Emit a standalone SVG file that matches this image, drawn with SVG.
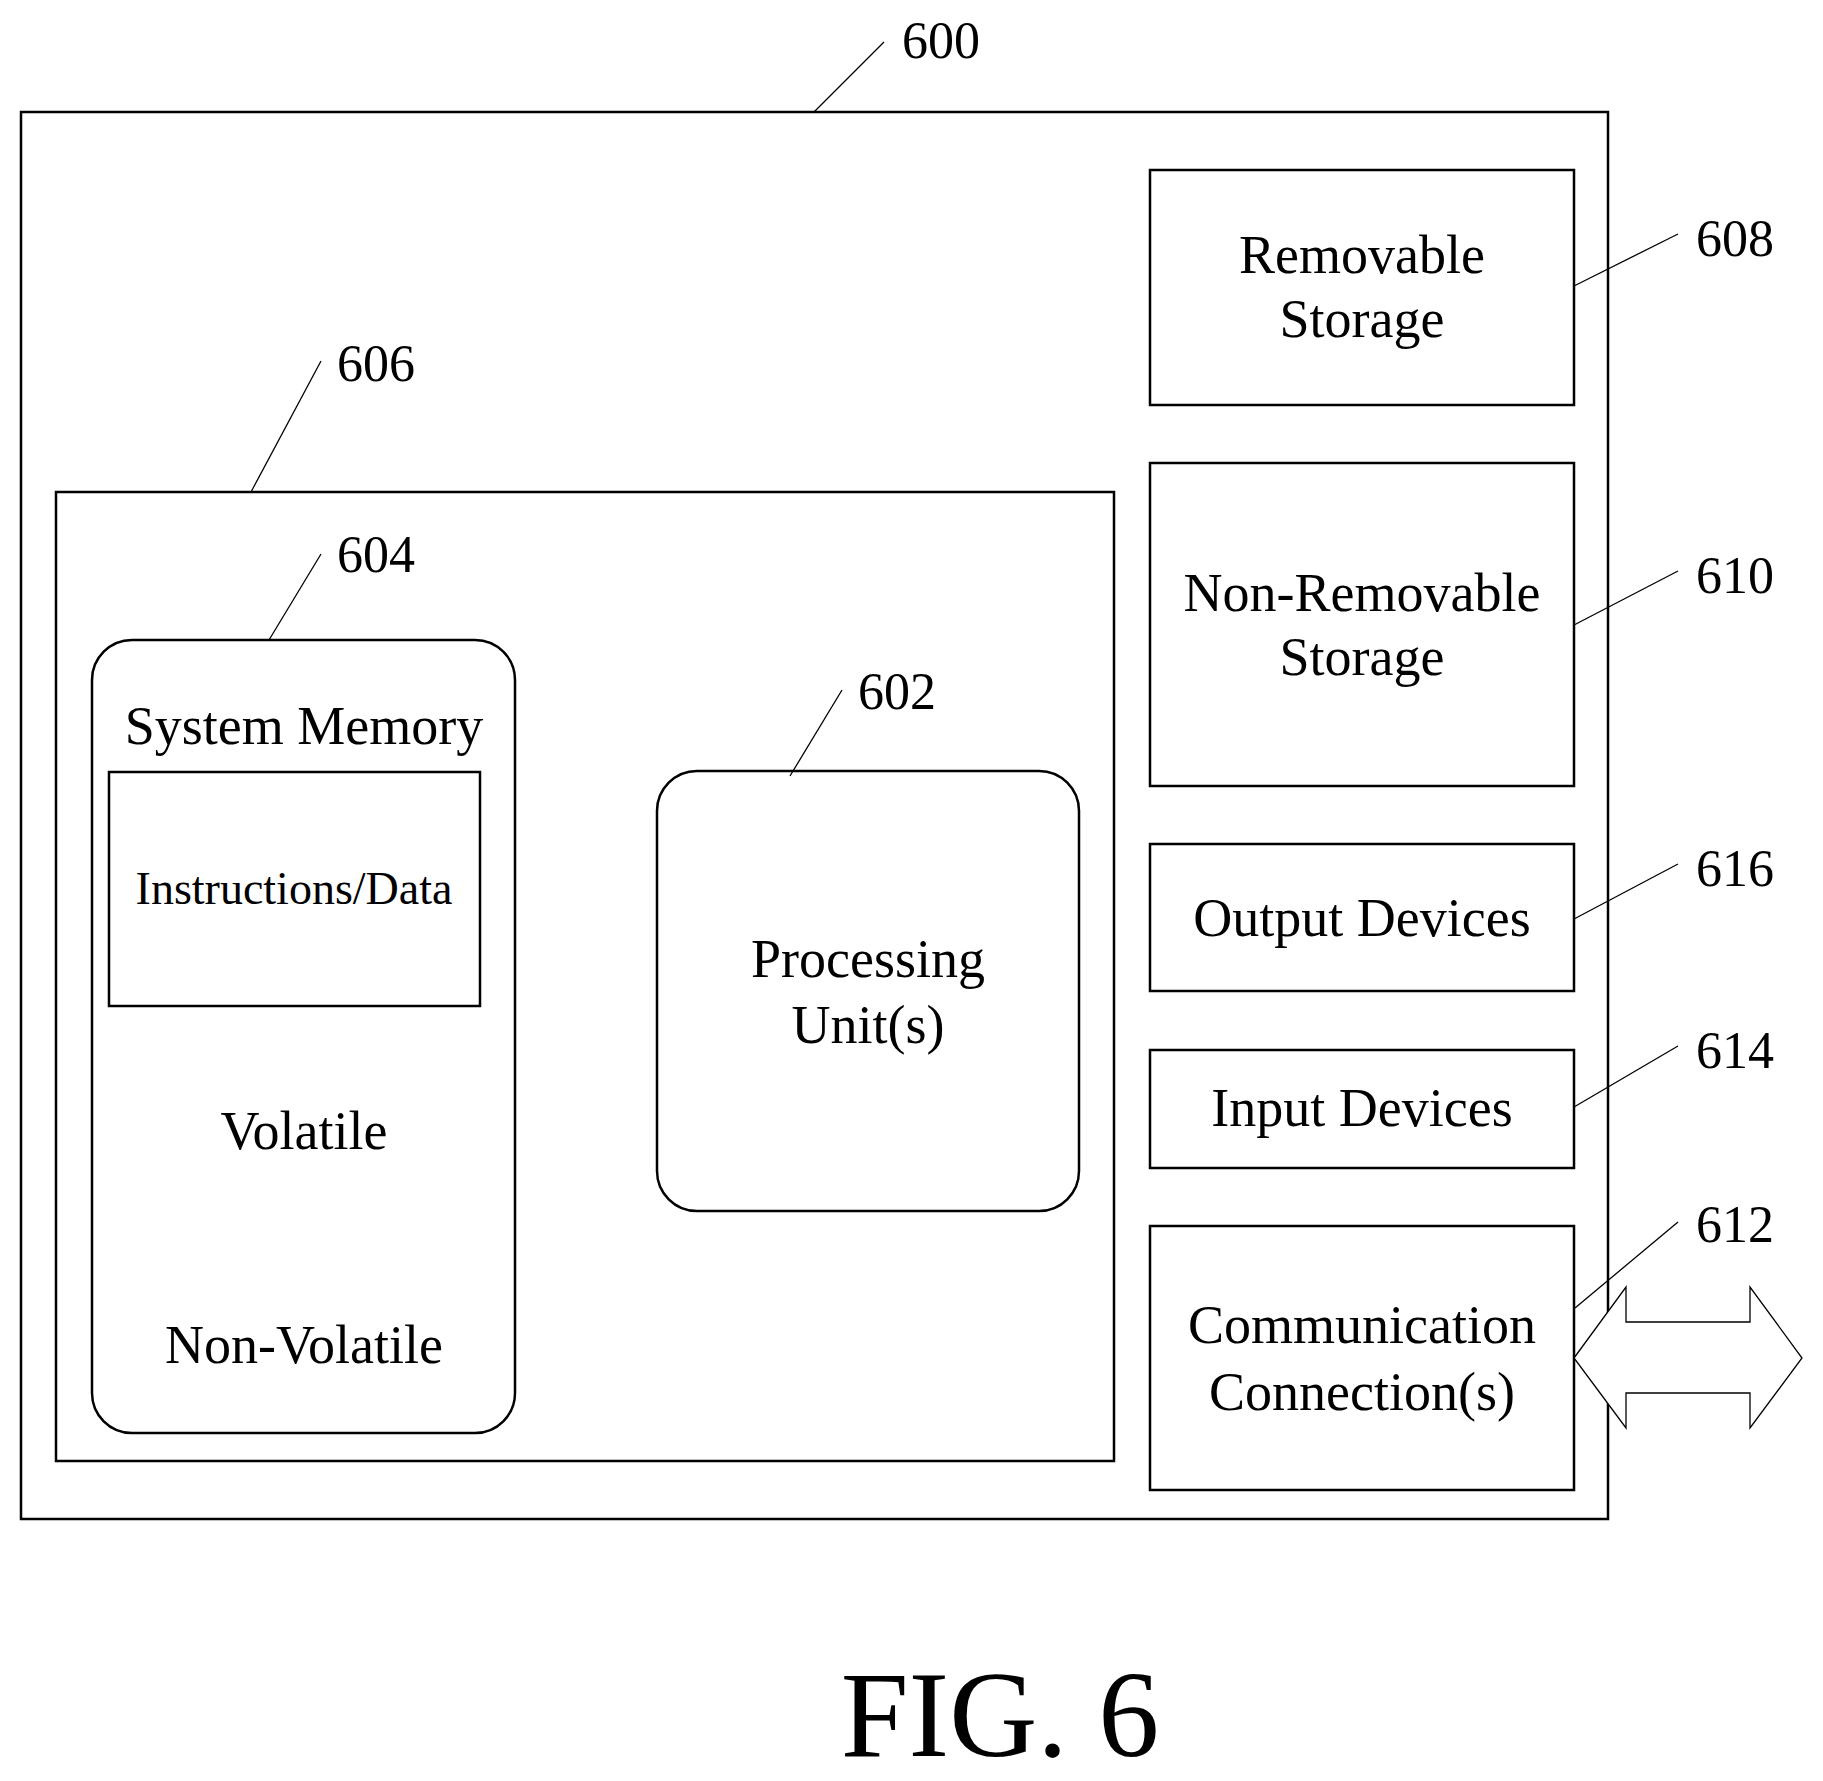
<svg xmlns="http://www.w3.org/2000/svg" width="1823" height="1781" viewBox="0 0 1823 1781">
<style>
.b{fill:none;stroke:#000;stroke-width:2.5}
.l{stroke:#000;stroke-width:1.3;fill:none}
text{font-family:"Liberation Serif",serif;fill:#000;text-anchor:middle}
.t{font-size:54px}
.n{font-size:52px;text-anchor:start}
</style>
<rect width="1823" height="1781" fill="#fff"/>
<g id="n600"><rect class="b" x="21" y="112" width="1587" height="1407"/><text class="n" x="902" y="58">600</text></g>
<g id="n608"><rect class="b" x="1150" y="170" width="424" height="235"/><text class="t" x="1362" y="273">Removable</text><text class="t" x="1362" y="337">Storage</text><text class="n" x="1696" y="256">608</text></g>
<g id="n610"><rect class="b" x="1150" y="463" width="424" height="323"/><text class="t" x="1362" y="611">Non-Removable</text><text class="t" x="1362" y="675">Storage</text><text class="n" x="1696" y="593">610</text></g>
<g id="n616"><rect class="b" x="1150" y="844" width="424" height="147"/><text class="t" x="1362" y="936">Output Devices</text><text class="n" x="1696" y="886">616</text></g>
<g id="n614"><rect class="b" x="1150" y="1050" width="424" height="118"/><text class="t" x="1362" y="1126">Input Devices</text><text class="n" x="1696" y="1068">614</text></g>
<g id="n612"><rect class="b" x="1150" y="1226" width="424" height="264"/><text class="t" x="1362" y="1343">Communication</text><text class="t" x="1362" y="1410">Connection(s)</text><text class="n" x="1696" y="1242">612</text></g>
<g id="n606"><rect class="b" x="56" y="492" width="1058" height="969"/><text class="n" x="337" y="381">606</text></g>
<g id="n604"><rect class="b" x="92" y="640" width="423" height="793" rx="40"/><text class="t" x="304" y="744">System Memory</text><text class="t" x="304" y="1149">Volatile</text><text class="t" x="304" y="1363">Non-Volatile</text><text class="n" x="337" y="572">604</text></g>
<g id="data"><rect class="b" x="109" y="772" width="371" height="234"/><text x="294" y="904" font-size="46">Instructions/Data</text></g>
<g id="n602"><rect class="b" x="657" y="771" width="422" height="440" rx="40"/><text class="t" x="868" y="977">Processing</text><text class="t" x="868" y="1043">Unit(s)</text><text class="n" x="858" y="709">602</text></g>
<g id="connectors">
<line class="l" x1="814" y1="112" x2="884" y2="42"/>
<line class="l" x1="1574" y1="286" x2="1678" y2="234"/>
<line class="l" x1="1574" y1="625" x2="1678" y2="571"/>
<line class="l" x1="1574" y1="919" x2="1678" y2="864"/>
<line class="l" x1="1574" y1="1107" x2="1678" y2="1046"/>
<line class="l" x1="1575" y1="1308" x2="1678" y2="1222"/>
<line class="l" x1="251" y1="492" x2="321" y2="361"/>
<line class="l" x1="269" y1="640" x2="321" y2="554"/>
<line class="l" x1="790" y1="776" x2="842" y2="690"/>
<polygon points="1574,1358 1626,1287 1626,1322 1750,1322 1750,1287 1802,1358 1750,1428 1750,1393 1626,1393 1626,1428" fill="#fff" stroke="#000" stroke-width="1.3"/>
</g>
<text x="1000" y="1756" font-size="122">FIG. 6</text>
</svg>
